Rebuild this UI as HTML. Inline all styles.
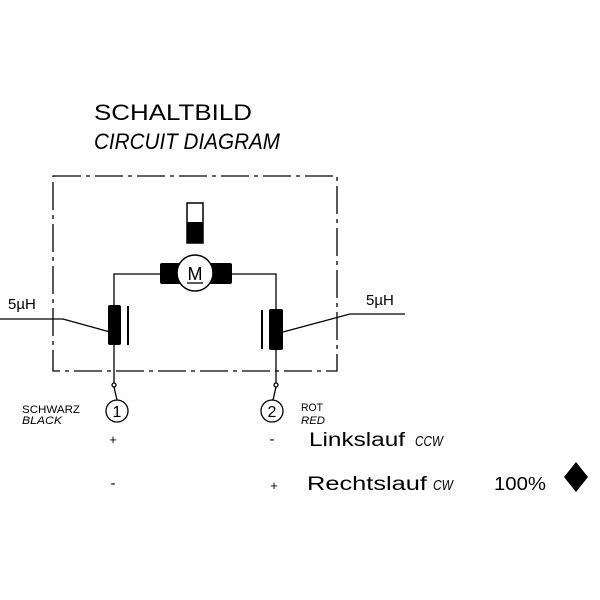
<!DOCTYPE html>
<html><head><style>body{margin:0;background:#fff}svg{display:block}text{font-family:"Liberation Sans",sans-serif;fill:#000}</style></head><body>
<svg width="600" height="600" viewBox="0 0 600 600">
<text x="94" y="120" font-size="22" textLength="158" lengthAdjust="spacingAndGlyphs">SCHALTBILD</text>
<text x="94" y="149" font-size="22" font-style="italic" textLength="186" lengthAdjust="spacingAndGlyphs">CIRCUIT DIAGRAM</text>
<rect x="53" y="176" width="284" height="195" fill="none" stroke="#000" stroke-width="1.3" stroke-dasharray="28,5,4,5"/>
<rect x="187" y="203" width="16" height="40" fill="#fff" stroke="#000" stroke-width="1.5"/>
<rect x="187" y="222" width="16" height="21" fill="#000"/>
<rect x="160" y="263" width="72" height="21" rx="2" fill="#000"/>
<circle cx="195" cy="273" r="18" fill="#fff" stroke="#000" stroke-width="1.5"/>
<text x="195" y="280" font-size="18" text-anchor="middle">M</text>
<line x1="187" y1="283" x2="203" y2="283" stroke="#000" stroke-width="1.3"/>
<g stroke="#000" stroke-width="1.3" fill="none">
<polyline points="160,274 114,274 114,383"/>
<polyline points="231,274 276,274 276,383"/>
<polyline points="0,319 63,319 110,332"/>
<polyline points="283,332 350,314 405,314"/>
<line x1="128" y1="306" x2="128" y2="345" stroke-width="2"/>
<line x1="262" y1="310" x2="262" y2="349" stroke-width="2"/>
<circle cx="114" cy="385" r="2" fill="#fff"/>
<circle cx="276" cy="385" r="2" fill="#fff"/>
<line x1="114" y1="387" x2="117" y2="400"/>
<line x1="276" y1="387" x2="273" y2="400"/>
<circle cx="117" cy="411" r="11"/>
<circle cx="272" cy="411" r="11"/>
</g>
<rect x="108" y="305" width="13" height="40" rx="2" fill="#000"/>
<rect x="269" y="309" width="14" height="41" rx="2" fill="#000"/>
<text x="8" y="309" font-size="15">5µH</text>
<text x="366" y="305" font-size="15">5µH</text>
<text x="117" y="417" font-size="16" text-anchor="middle">1</text>
<text x="272" y="417" font-size="16" text-anchor="middle">2</text>
<text x="22" y="413" font-size="11" textLength="58" lengthAdjust="spacingAndGlyphs">SCHWARZ</text>
<text x="22" y="424" font-size="11" font-style="italic" textLength="40" lengthAdjust="spacingAndGlyphs">BLACK</text>
<text x="301" y="411" font-size="11" textLength="22" lengthAdjust="spacingAndGlyphs">ROT</text>
<text x="301" y="424" font-size="11" font-style="italic" textLength="24" lengthAdjust="spacingAndGlyphs">RED</text>
<text x="113" y="444" font-size="13" text-anchor="middle">+</text>
<text x="272" y="444" font-size="15" text-anchor="middle">-</text>
<text x="309" y="446" font-size="19" textLength="96" lengthAdjust="spacingAndGlyphs">Linkslauf</text>
<text x="415" y="446" font-size="15" font-style="italic" textLength="28" lengthAdjust="spacingAndGlyphs">CCW</text>
<text x="113" y="488" font-size="15" text-anchor="middle">-</text>
<text x="274" y="490" font-size="13" text-anchor="middle">+</text>
<text x="307" y="490" font-size="19" textLength="120" lengthAdjust="spacingAndGlyphs">Rechtslauf</text>
<text x="433" y="490" font-size="15" font-style="italic" textLength="20" lengthAdjust="spacingAndGlyphs">CW</text>
<text x="494" y="490" font-size="18" textLength="52" lengthAdjust="spacingAndGlyphs">100%</text>
<polygon points="576,462 588,477 576,492 564,477" fill="#000"/>
</svg>
</body></html>
